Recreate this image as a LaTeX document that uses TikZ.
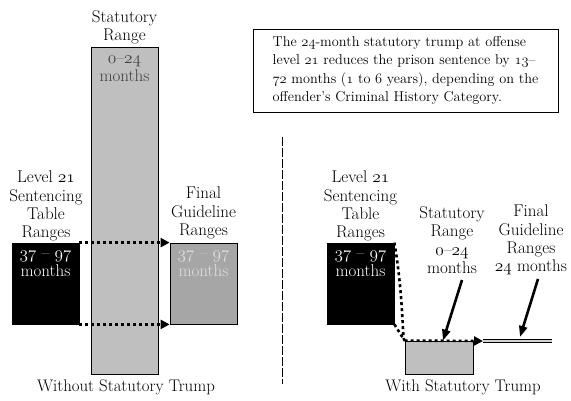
\documentclass[tikz,border=0pt]{standalone}
\usepackage{fontspec}
\usetikzlibrary{arrows.meta}
\newcommand{\os}[1]{{\usefont{OML}{cmm}{m}{it}#1}}
\begin{document}
\begin{tikzpicture}[x=1pt,y=-1pt,
  lab/.style={align=center,font=\fontsize{17}{18.3}\selectfont},
  bottomlab/.style={font=\fontsize{16.8}{18}\selectfont},
  bar/.style={draw=black,line width=0.8pt,inner sep=0pt},
  dots/.style={line width=2.6pt,dash pattern=on 3pt off 3pt,-{Triangle[length=9pt,width=9pt]}},
  pointer/.style={line width=2.6pt,-{Triangle[length=11pt,width=8pt]}}]
\useasboundingbox (0,0) rectangle (571,400);

% left: without the trump
\node[bar,fill=gray!50,minimum width=67pt,minimum height=327pt] (stat1) at (124.5,210.5) {};
\node[bar,fill=black,minimum width=67pt,minimum height=81pt] (sent1) at (45.5,283.5) {};
\node[bar,fill=gray!70,minimum width=67pt,minimum height=81pt] (final1) at (203.5,283.5) {};
\node[lab] (stat1lab) at (124.5,27) {Statutory\\Range};
\node[lab,text=black!75] (stat1txt) at (124.5,69) {\os{0}--\os{24}\\months};
\node[lab] (sent1lab) at (46,206) {Level \os{21}\\Sentencing\\Table\\Ranges};
\node[lab,text=white] (sent1txt) at (45.5,264) {\os{37} -- \os{97}\\months};
\node[lab] (final1lab) at (203.5,213) {Final\\Guideline\\Ranges};
\node[lab,text=gray!25] (final1txt) at (203.5,264) {\os{37} -- \os{97}\\months};
\draw[dots] (sent1.north east) -- (final1.north west);
\draw[dots] (sent1.south east) -- (final1.south west);
\node[bottomlab] (cap1) at (126,387) {Without Statutory Trump};

% divider
\draw[line width=0.6pt,dash pattern=on 9pt off 2pt] (282,137) -- (282,384);

% right: with the trump
\node[draw,line width=0.8pt,align=left,inner sep=0pt,minimum width=305pt,minimum height=83pt,
  font=\fontsize{14.3}{18.5}\selectfont] (note) at (405.5,70.5)
  {The \os{24}-month statutory trump at offense\\
   level \os{21} reduces the prison sentence by \os{13}--\\
   \os{72} months (\os{1} to \os{6} years), depending on the\\
   offender's Criminal History Category.};
\node[bar,fill=black,minimum width=67pt,minimum height=81pt] (sent2) at (360.5,283.5) {};
\node[bar,fill=gray!50,minimum width=68pt,minimum height=33pt] (stat2) at (439,357.5) {};
\node[lab] (sent2lab) at (360.5,206) {Level \os{21}\\Sentencing\\Table\\Ranges};
\node[lab,text=white] (sent2txt) at (360.5,264) {\os{37} -- \os{97}\\months};
\node[lab] (stat2lab) at (452,240) {Statutory\\Range\\\os{0}--\os{24}\\months};
\node[lab] (final2lab) at (531,240) {Final\\Guideline\\Ranges\\\os{24} months};
\coordinate (tip) at (483,341);
\coordinate (lineend) at (552,341);
\coordinate (p1) at (462,280);
\coordinate (p2) at (538,279);
\coordinate (g2) at (520,337);
\draw[line width=2.6pt,dash pattern=on 3pt off 3pt] (sent2.north east) .. controls (404,300) and (402,341) .. (stat2.north west);
\draw[line width=2.6pt,dash pattern=on 3pt off 3pt] (sent2.south east) -- (stat2.north west);
\draw[dots] (stat2.north west) -- (tip);
\draw[line width=1pt,double=gray!35,double distance=1.6pt] (tip) -- (lineend);
\draw[pointer] (p1) -- ([xshift=4pt]stat2.north);
\draw[pointer] (p2) -- (g2);
\node[bottomlab] (cap2) at (463,387) {With Statutory Trump};
\end{tikzpicture}
\end{document}
